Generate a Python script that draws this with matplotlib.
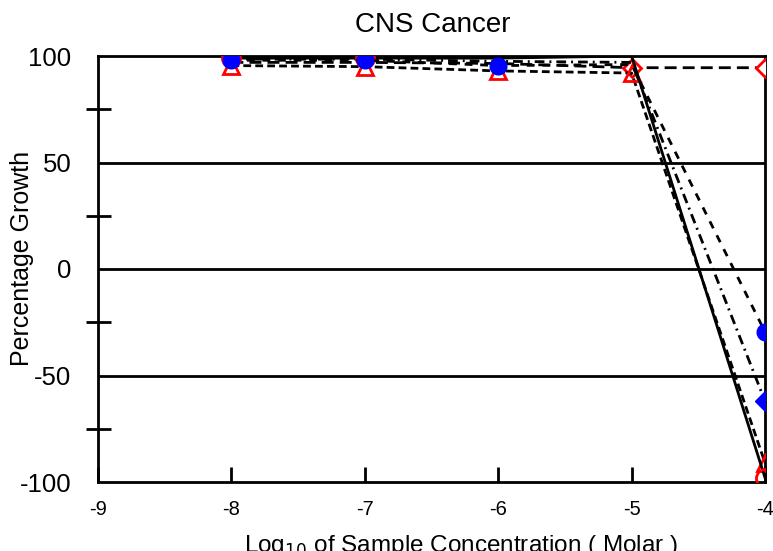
import matplotlib
matplotlib.use("Agg")
import matplotlib.pyplot as plt
from matplotlib.ticker import FixedLocator

plt.rcParams['font.family'] = ['Liberation Sans', 'DejaVu Sans']

log_conc = [-8, -7, -6, -5, -4]
s_solid = [99, 99, 99, 100, -98]
s_triangle = [95.5, 95, 93, 92, -91]
s_bcircle = [98, 98, 95.5, 96, -29.5]
s_bdiamond = [98.5, 98.5, 97.5, 97, -62]
s_rdiamond = [97, 97, 96.5, 94.5, 94.5]

title = "CNS Cancer"
xlabel = "Log$_{10}$ of Sample Concentration ( Molar )"
ylabel = "Percentage Growth"
xticks = [-9, -8, -7, -6, -5, -4]
yticks = [-100, -50, 0, 50, 100]

fig = plt.figure(figsize=(7.73, 5.51), dpi=100)
ax = fig.add_axes([98/773, 1-482/551, (765-98)/773, (482-56)/551])

lw = 2.0
ms = 12
for g in [50, 0, -50]:
    ax.axhline(g, color='black', lw=lw, zorder=1)

ax.plot(log_conc, s_rdiamond, color='black', lw=lw, ls=(0, (4.3, 2.2)),
        marker='D', ms=9, mfc='white', mec='red', mew=2, markevery=[3, 4], zorder=3)
ax.plot(log_conc, s_bdiamond, color='black', lw=lw, ls=(0, (3.5, 1.8, 0.7, 1.8)),
        marker='D', ms=10, mfc='blue', mec='blue', markevery=[4], zorder=3)
ax.plot(log_conc, s_triangle, color='black', lw=lw, ls=(0, (2.8, 1.5)),
        marker='^', ms=ms, mfc='none', mec='red', mew=2, markevery=[0, 1, 2, 3, 4], zorder=3)
ax.plot(log_conc, s_solid, color='black', lw=lw, ls='-',
        marker='o', ms=13, mfc='none', mec='red', mew=2, markevery=[0, 1, 4], zorder=3)
ax.plot(log_conc, s_bcircle, color='black', lw=lw, ls=(0, (2.8, 2.8)),
        marker='o', ms=ms, mfc='blue', mec='blue', markevery=[0, 1, 2, 4], zorder=4)

ax.set_xlim(-9, -4)
ax.set_ylim(-100, 100)
ax.set_xticks(xticks)
ax.set_xticklabels([str(t) for t in xticks], fontsize=14.5)
ax.set_yticks(yticks)
ax.set_yticklabels([str(t) for t in yticks], fontsize=18.5)
ax.yaxis.set_minor_locator(FixedLocator([-75, -25, 25, 75]))
ax.tick_params(axis='x', direction='in', length=11, width=lw, pad=13)
ax.tick_params(axis='y', which='major', length=0, pad=19)
ax.tick_params(axis='y', which='minor', direction='inout', length=18, width=lw)
for sp in ax.spines.values():
    sp.set_linewidth(lw)
    sp.set_color('black')
    sp.set_clip_on(False)

fig.text(433/773, 1-25/551, title, ha='center', va='center', fontsize=20)
fig.text(22/773, 1-258/551, ylabel, ha='center', va='center', rotation=90, fontsize=18)
fig.text(461/773, 1-546/551, xlabel, ha='center', va='center', fontsize=17.5)

fig.savefig("out.png", dpi=100)
